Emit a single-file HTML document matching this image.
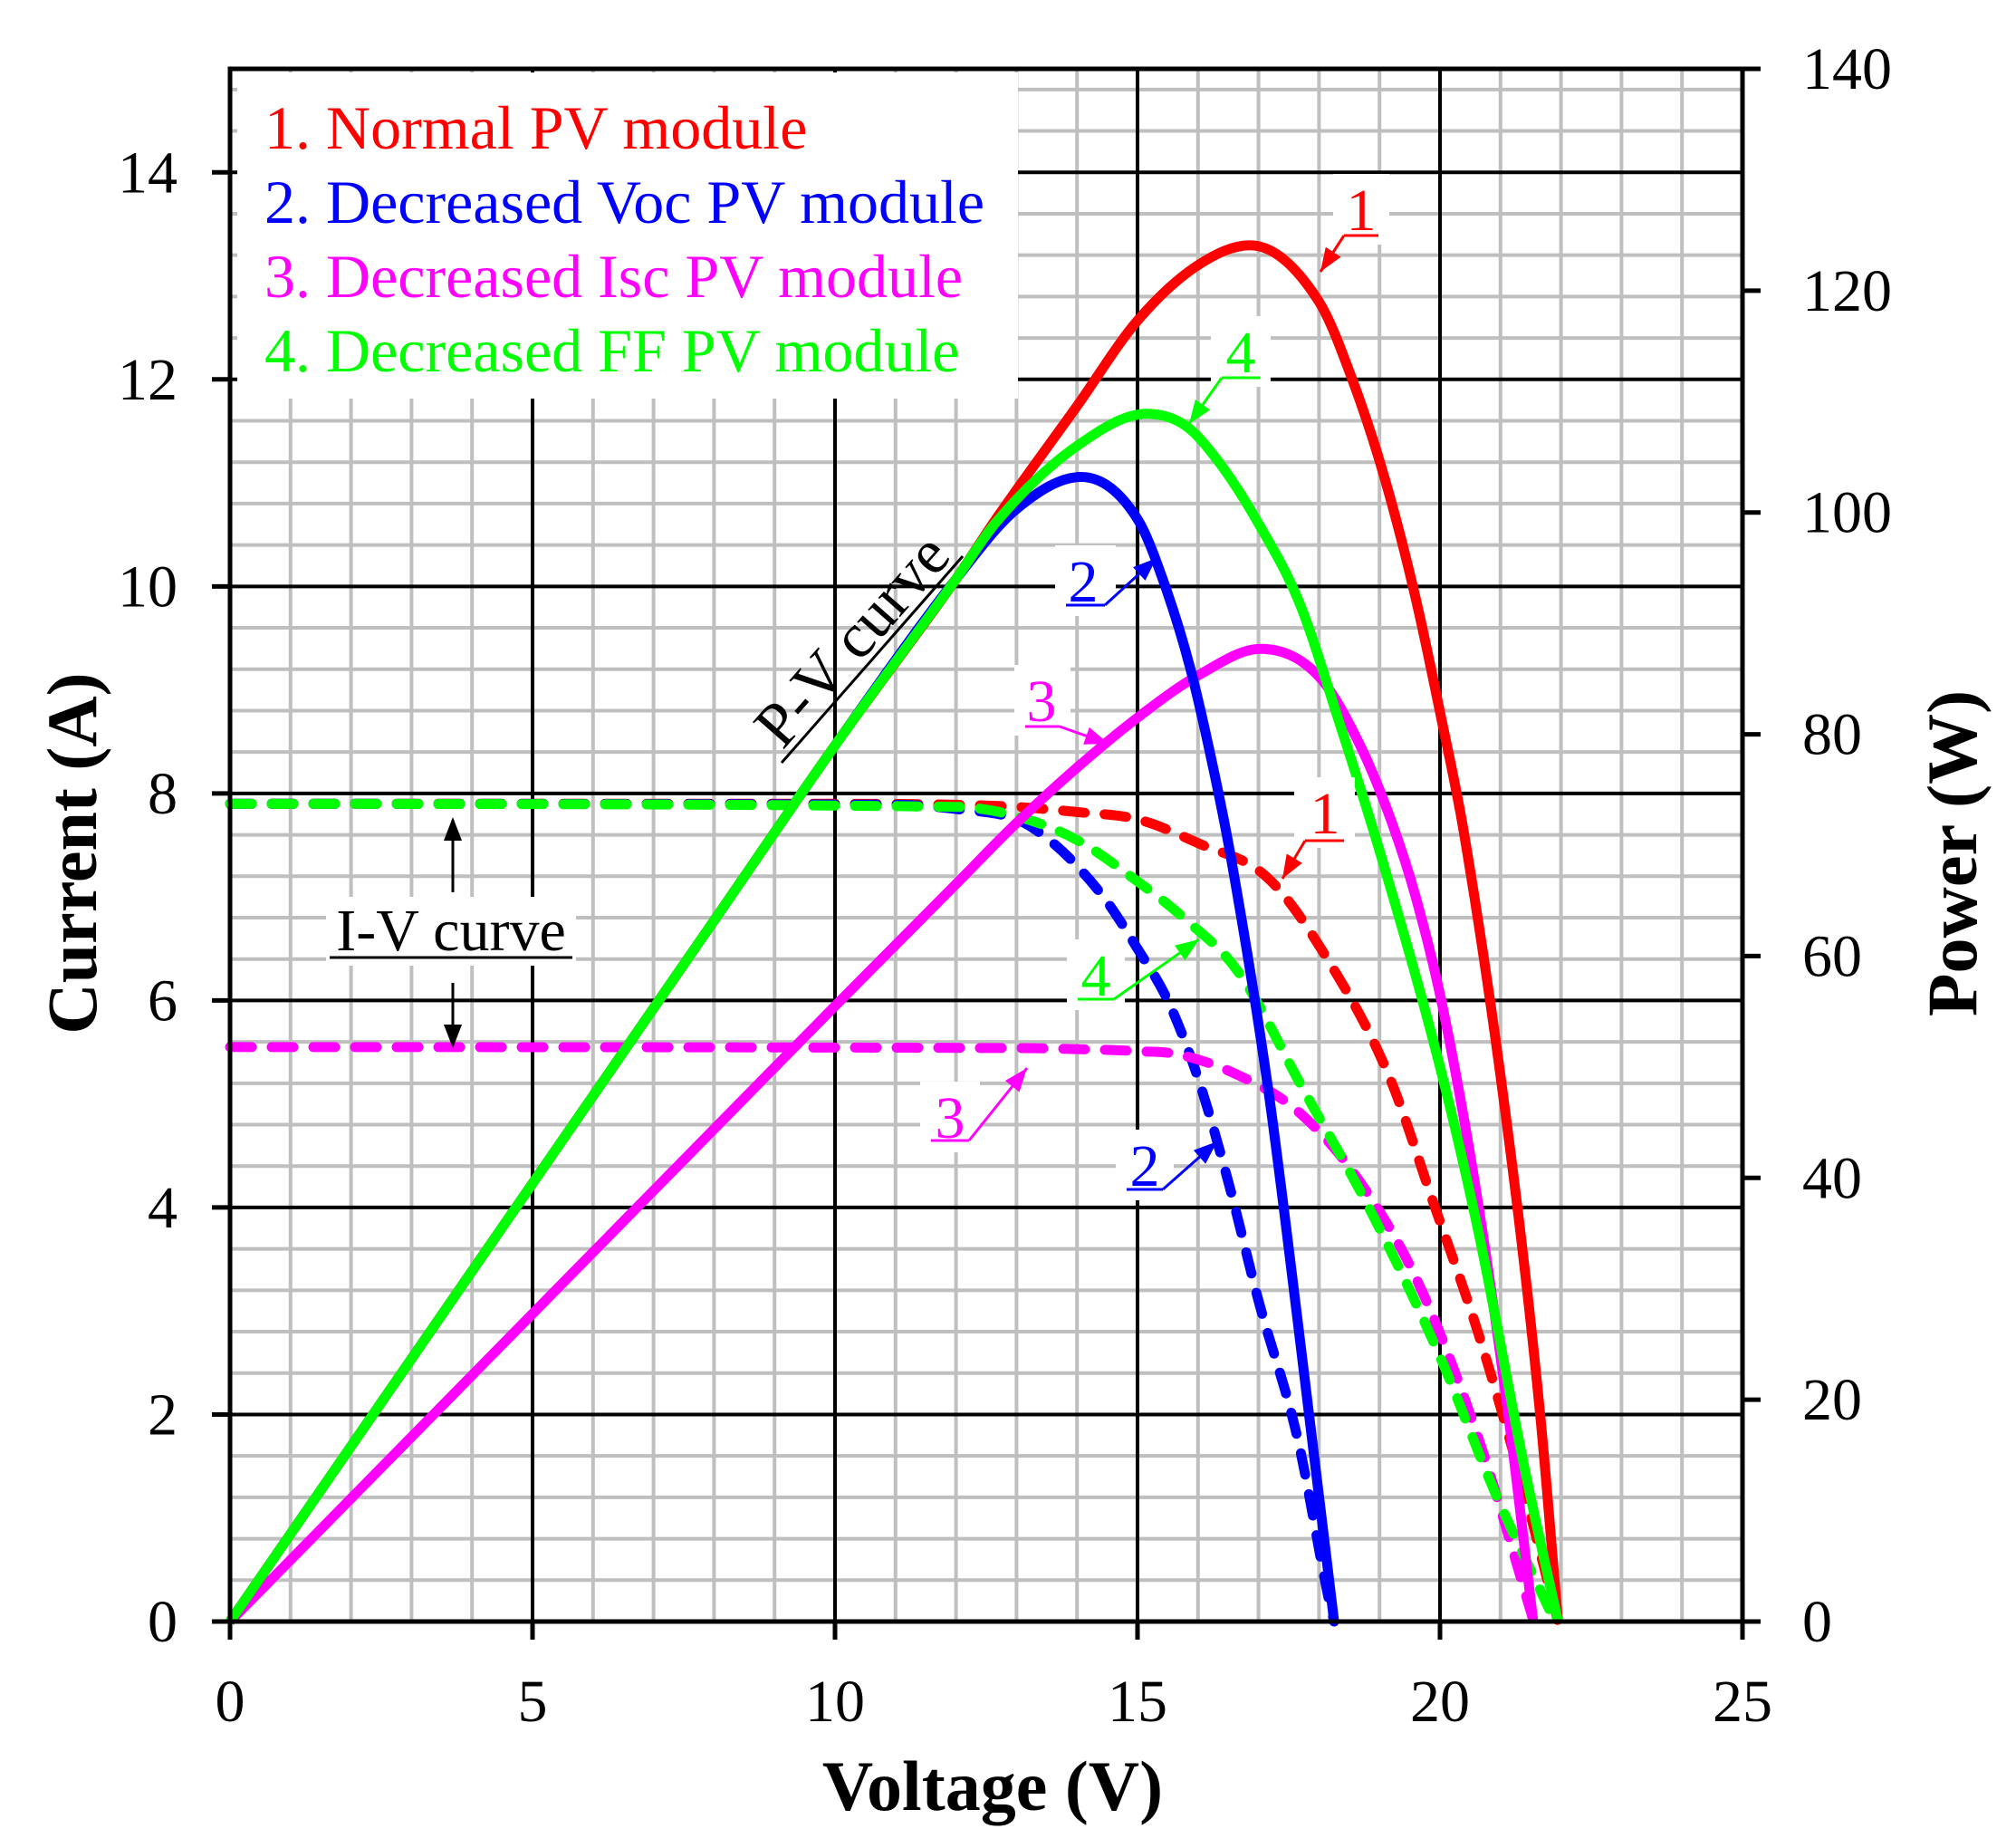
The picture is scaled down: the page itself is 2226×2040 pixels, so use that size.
<!DOCTYPE html>
<html><head><meta charset="utf-8"><style>
html,body{margin:0;padding:0;background:#fff}
svg{display:block}
text{font-family:"Liberation Serif",serif}
</style></head><body>
<svg id="chart" width="2226" height="2040" viewBox="0 0 2226 2040" xmlns="http://www.w3.org/2000/svg">
<g id="grid"></g>
<g id="series"></g>
<g id="axes"></g>
<g id="ann"></g>
</svg>
<script>
const xTicks=[0,5,10,15,20,25];
const yTicks=[0,2,4,6,8,10,12,14];
const pTicks=[0,20,40,60,80,100,120,140];
const legendLabels=["1. Normal PV module","2. Decreased Voc PV module","3. Decreased Isc PV module","4. Decreased FF PV module"];
const colors=["#ff0000","#0000ff","#ff00ff","#00ff00"];
// P-V curves (V, W)
const pv1V=[0,2,4,6,8,10,12,12.66,14,15,16,16.86,18,18.55,19.09,19.61,20,20.4,21.15,21.65,21.95];
const pv1P=[0,15.8,31.6,47.4,63.2,79,94,99.4,109.6,117.3,122.3,124.1,119,112,103,92,82,71,43,19,0];
const pv2V=[0,2,4,6,8,10,12,13,14.07,15,15.48,15.87,16.27,16.54,17.16,17.65,18.25];
const pv2P=[0,15.8,31.6,47.4,63.2,79,94,100.3,103.2,99.4,93,86,76.5,69,48,27,0];
const pv3V=[0,2,4,6,8,10,12,13,14,15,16,17.04,18,18.68,19.2,19.6,20.04,20.6,21.15,21.54];
const pv3P=[0,11.1,22.2,33.3,44.4,55.5,66.5,72,77,81.5,85.3,87.7,85.2,79,72.1,65.3,55.5,38.7,17.8,0];
const pv4V=[0,2,4,6,8,10,12,12.66,14,15.16,15.8,16.35,17,17.68,18.34,19,20,20.64,21.39,21.95];
const pv4P=[0,15.8,31.6,47.4,63.2,79,94,99.1,106,108.9,107.8,104.5,99,91.8,81,69.5,50,35,14,0];
// I-V curves (V, A)
const iv1V=[0,10,12,13,14,15,16,17.16,18.16,19.15,19.9,20.64,21.39,21.95];
const iv1I=[7.9,7.9,7.89,7.87,7.82,7.75,7.52,7.18,6.38,5.28,4.03,2.77,1.26,0];
const iv2V=[0,11,12,13,13.5,14,14.5,15,15.5,16,16.5,17,17.65,18.15,18.25];
const iv2I=[7.9,7.89,7.85,7.75,7.57,7.3,6.95,6.5,6.0,5.25,4.25,3.1,1.76,0.25,0];
const iv3V=[0,13,14,15,15.66,16.66,17.65,18.65,19.65,20.64,21.55];
const iv3I=[5.55,5.54,5.53,5.51,5.48,5.28,4.93,4.27,3.26,1.76,0];
const iv4V=[0,12,13,14,15,15.8,16.66,17.75,18.85,20,20.9,21.9];
const iv4I=[7.9,7.87,7.78,7.55,7.15,6.78,6.28,5.13,3.97,2.56,1.26,0];

const X0=254,X1=1924,Y0=1790,YT=76;
const xs=v=>X0+v*(X1-X0)/25;
const ys=i=>Y0-i*(Y0-YT)/15;
const yp=p=>ys(p*15/140);
const NS="http://www.w3.org/2000/svg";
function mk(tag,attrs,parent,txt){const e=document.createElementNS(NS,tag);for(const k in attrs)e.setAttribute(k,attrs[k]);if(txt!==undefined)e.textContent=txt;parent.appendChild(e);return e;}
const grid=document.getElementById('grid'),series=document.getElementById('series'),axes=document.getElementById('axes'),ann=document.getElementById('ann');

for(let v=1;v<25;v++){if(v%5===0)continue;const l=mk('line',{x1:xs(v),x2:xs(v),y1:YT,y2:Y0,stroke:'#bfbfbf','stroke-width':4},grid);
}
for(let k=1;k<37.5;k++){const i=k*0.4;if(Math.abs(i/2-Math.round(i/2))<1e-6)continue;const l=mk('line',{x1:X0,x2:X1,y1:ys(i),y2:ys(i),stroke:'#bfbfbf','stroke-width':4},grid);
}
for(const v of xTicks.slice(1,-1)){const l=mk('line',{x1:xs(v),x2:xs(v),y1:YT,y2:Y0,stroke:'#000','stroke-width':4},grid);
}
for(const i of yTicks.slice(1)){const l=mk('line',{x1:X0,x2:X1,y1:ys(i),y2:ys(i),stroke:'#000','stroke-width':4},grid);
}
const lb=mk('rect',{x:262,y:80,width:862,height:360,fill:'#fff'},grid);


function smooth(V,Y,f){const x=V.map(xs),y=Y.map(f),n=x.length;
const d=[],m=new Array(n);
for(let k=0;k<n-1;k++)d.push((y[k+1]-y[k])/(x[k+1]-x[k]));
m[0]=d[0];m[n-1]=d[n-2];
for(let k=1;k<n-1;k++){m[k]=(d[k-1]*d[k]<=0)?0:(d[k-1]+d[k])/2;}
for(let k=0;k<n-1;k++){if(d[k]===0){m[k]=0;m[k+1]=0;continue;}
const a=m[k]/d[k],b=m[k+1]/d[k],s=a*a+b*b;if(s>9){const t=3/Math.sqrt(s);m[k]=t*a*d[k];m[k+1]=t*b*d[k];}}
let p='M'+x[0].toFixed(1)+' '+y[0].toFixed(1);
for(let k=0;k<n-1;k++){const h=(x[k+1]-x[k])/3;
p+=` C${(x[k]+h).toFixed(1)} ${(y[k]+m[k]*h).toFixed(1)} ${(x[k+1]-h).toFixed(1)} ${(y[k+1]-m[k+1]*h).toFixed(1)} ${x[k+1].toFixed(1)} ${y[k+1].toFixed(1)}`;}
return p;}
const ivs=[[iv1V,iv1I],[iv2V,iv2I],[iv3V,iv3I],[iv4V,iv4I]];
const pvs=[[pv1V,pv1P],[pv2V,pv2P],[pv3V,pv3P],[pv4V,pv4P]];
[0,1,2,3].forEach(k=>{const s=ivs[k];const e=mk('path',{d:smooth(s[0],s[1],ys),fill:'none',stroke:colors[k],'stroke-width':11,'stroke-dasharray':'24 22','stroke-linecap':'round'},series);
});
[2,1,0,3].forEach(k=>{const s=pvs[k];const e=mk('path',{d:smooth(s[0],s[1],yp),fill:'none',stroke:colors[k],'stroke-width':11,'stroke-linejoin':'round'},series);
});

const fr=mk('rect',{x:X0,y:YT,width:X1-X0,height:Y0-YT,fill:'none',stroke:'#000','stroke-width':5},axes);

for(const v of xTicks){const t=mk('line',{x1:xs(v),x2:xs(v),y1:Y0,y2:Y0+20,stroke:'#000','stroke-width':5},axes);

const l=mk('text',{x:xs(v),y:1900,'font-size':66,'text-anchor':'middle'},axes,String(v));
}
for(const i of yTicks){const t=mk('line',{x1:X0-20,x2:X0,y1:ys(i),y2:ys(i),stroke:'#000','stroke-width':5},axes);

const l=mk('text',{x:196,y:ys(i)+22,'font-size':66,'text-anchor':'end'},axes,String(i));
}
for(const p of pTicks){const t=mk('line',{x1:X1,x2:X1+20,y1:yp(p),y2:yp(p),stroke:'#000','stroke-width':5},axes);

const l=mk('text',{x:1990,y:yp(p)+22,'font-size':66,'text-anchor':'start'},axes,String(p));
}
let t=mk('text',{x:1096,y:1998,'font-size':78,'font-weight':'bold','text-anchor':'middle'},axes,'Voltage (V)');

t=mk('text',{x:0,y:0,'font-size':78,'font-weight':'bold','text-anchor':'middle',transform:'translate(106,942) rotate(-90)'},axes,'Current (A)');

t=mk('text',{x:0,y:0,'font-size':78,'font-weight':'bold','text-anchor':'middle',transform:'translate(2182,942) rotate(-90)'},axes,'Power (W)');


legendLabels.forEach((s,k)=>{const e=mk('text',{x:292,y:164+k*82,'font-size':68,fill:colors[k]},ann,s);
});

function arrowHead(x1,y1,x2,y2,col){const a=Math.atan2(y2-y1,x2-x1),L=26,W=10;
const p=[[x2,y2],[x2-L*Math.cos(a)+W*Math.sin(a),y2-L*Math.sin(a)-W*Math.cos(a)],[x2-L*Math.cos(a)-W*Math.sin(a),y2-L*Math.sin(a)+W*Math.cos(a)]];
return mk('polygon',{points:p.map(q=>q.join(',')).join(' '),fill:col},ann);}
const labels=[
 ['1',1503,254,1484,1522,260,1458,300,0],
 ['4',1370,411,1349,1391,417,1313,468,3],
 ['2',1196,664,1177,1220,668,1277,616,1],
 ['3',1150,796,1132,1170,802,1224,821,2],
 ['1',1463,920,1441,1484,928,1416,970,0],
 ['4',1210,1099,1190,1230,1103,1324,1037,3],
 ['3',1049,1256,1028,1070,1259,1134,1179,2],
 ['2',1264,1309,1244,1284,1313,1344,1260,1]];
labels.forEach((L,k)=>{const col=colors[L[8]];
const bg=mk('rect',{x:L[3]-12,y:L[2]-62,width:L[4]-L[3]+24,height:78,fill:'#fff'},ann);

const tx=mk('text',{x:L[1],y:L[2],'font-size':66,'text-anchor':'middle',fill:col},ann,L[0]);

const ul=mk('line',{x1:L[3],x2:L[4],y1:L[5],y2:L[5],stroke:col,'stroke-width':3},ann);

const sx=(L[6]<L[3])?L[3]:L[4];
const ln=mk('line',{x1:sx,y1:L[5],x2:L[6],y2:L[7],stroke:col,'stroke-width':3},ann);

const ah=arrowHead(sx,L[5],L[6],L[7],col);
});

let pl=mk('line',{x1:863,y1:842,x2:1063,y2:614,stroke:'#000','stroke-width':3},ann);

let ptx=mk('text',{x:0,y:0,'font-size':70,'text-anchor':'middle',transform:'translate(958,722) rotate(-48.7)'},ann,'P-V curve');

let ivb=mk('rect',{x:360,y:990,width:276,height:76,fill:'#fff'},ann);

let itx=mk('text',{x:498,y:1049,'font-size':66,'text-anchor':'middle'},ann,'I-V curve');

let iu=mk('line',{x1:364,x2:632,y1:1057,y2:1057,stroke:'#000','stroke-width':3},ann);

let a1=mk('line',{x1:500,y1:985,x2:500,y2:905,stroke:'#000','stroke-width':3},ann);

let h1=arrowHead(500,985,500,902,'#000');
let a2=mk('line',{x1:500,y1:1085,x2:500,y2:1154,stroke:'#000','stroke-width':3},ann);

let h2=arrowHead(500,1085,500,1157,'#000');
</script>
</body></html>
